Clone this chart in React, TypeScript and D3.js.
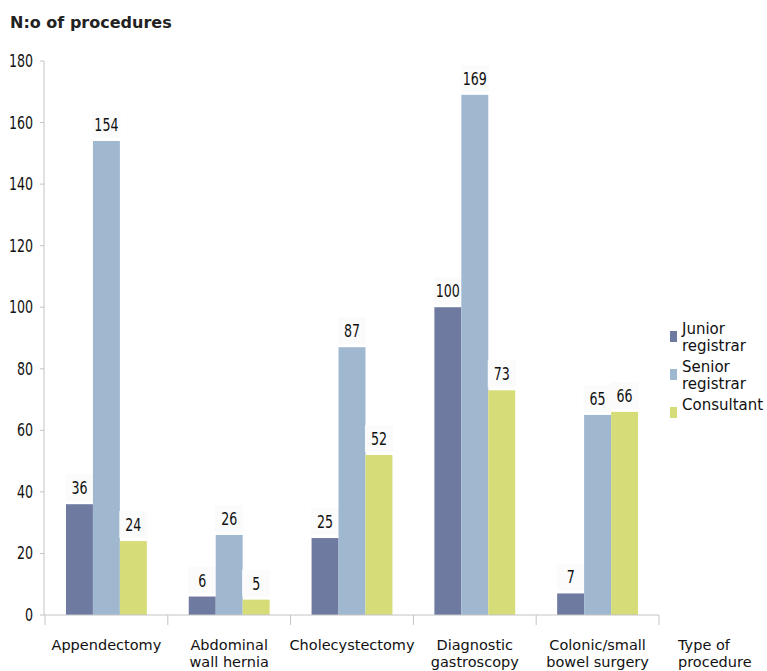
import React from 'react'
import * as d3 from 'd3'

const categories = ['Appendectomy', 'Abdominal wall hernia', 'Cholecystectomy', 'Diagnostic gastroscopy', 'Colonic/small bowel surgery']
const categoryLines = [['Appendectomy'], ['Abdominal', 'wall hernia'], ['Cholecystectomy'], ['Diagnostic', 'gastroscopy'], ['Colonic/small', 'bowel surgery']]
const seriesNames = ['Junior registrar', 'Senior registrar', 'Consultant']
const legendLines = [['Junior', 'registrar'], ['Senior', 'registrar'], ['Consultant']]
const junior = [36, 6, 25, 100, 7]
const senior = [154, 26, 87, 169, 65]
const consultant = [24, 5, 52, 73, 66]
const yTicks = [0, 20, 40, 60, 80, 100, 120, 140, 160, 180]

const colors = ['#6f7aa0', '#9fb8d0', '#d5dc78']
const numFont = '"DejaVu Sans Condensed", "DejaVu Sans", sans-serif'
const textFont = '"DejaVu Sans", sans-serif'

// narrow digits, like the original's condensed face
const Num = ({ x, y, anchor, children }: { x: number; y: number; anchor: string; children: React.ReactNode }) => (
  <g transform={`translate(${x},${y}) scale(0.78,1)`}>
    <text x={0} y={0} textAnchor={anchor} fontFamily={numFont} fontStretch="condensed" fontSize={18} fill="#111">{children}</text>
  </g>
)

export default function App() {
  const width = 767
  const height = 671
  const left = 45
  const right = 659
  const top = 61
  const bottom = 615

  const values = [junior, senior, consultant]
  const x = d3.scaleBand().domain(categories).range([left, right])
  const inner = d3.scaleBand().domain(seriesNames).range([0, x.bandwidth()]).paddingOuter(0.778)
  const y = d3.scaleLinear().domain([0, 180]).range([bottom, top])

  return (
    <div style={{ position: 'absolute', left: 0, top: 0 }}>
      <svg width={width} height={height} style={{ display: 'block', background: '#fff' }}>
        <text x={10} y={28} fontFamily={textFont} fontWeight="bold" fontSize={16} fill="#222">N:o of procedures</text>

        {/* y axis */}
        <line x1={left - 1} x2={left - 1} y1={top} y2={bottom} stroke="#c4c4c4" />
        {yTicks.map(t => (
          <g key={t}>
            <line x1={left - 5} x2={left - 1} y1={y(t)} y2={y(t)} stroke="#c4c4c4" />
            <Num x={33} y={y(t) + 6} anchor="end">{t}</Num>
          </g>
        ))}

        {/* bars */}
        {categories.map((c, ci) => (
          <g key={c} transform={`translate(${x(c)},0)`}>
            {seriesNames.map((s, si) => {
              const v = values[si][ci]
              const bx = inner(s) as number
              const bw = inner.bandwidth()
              const cx = bx + bw / 2
              const ty = y(v) - 10
              return (
                <g key={s}>
                  <rect x={bx} y={y(v)} width={bw} height={bottom - y(v)} fill={colors[si]} />
                  <rect x={cx - 14} y={ty - 20} width={28} height={27} fill="#fbfbfb" />
                  <Num x={cx} y={ty} anchor="middle">{v}</Num>
                </g>
              )
            })}
          </g>
        ))}

        {/* x axis */}
        <line x1={left - 1} x2={right} y1={bottom} y2={bottom} stroke="#c4c4c4" />
        {[...categories.map(c => x(c) as number), right].map((px, i) => (
          <line key={i} x1={px} x2={px} y1={bottom} y2={bottom + 10} stroke="#c4c4c4" />
        ))}
        {categories.map((c, ci) => (
          <text key={c} x={(x(c) as number) + x.bandwidth() / 2} y={650} textAnchor="middle" fontFamily={textFont} fontSize={14.5} fill="#111">
            {categoryLines[ci].map((l, li) => (
              <tspan key={li} x={(x(c) as number) + x.bandwidth() / 2} dy={li === 0 ? 0 : 17}>{l}</tspan>
            ))}
          </text>
        ))}
        <text x={678} y={650} fontFamily={textFont} fontSize={14.5} fill="#111">
          <tspan x={678} dy={0}>Type of</tspan>
          <tspan x={678} dy={17}>procedure</tspan>
        </text>

        {/* legend */}
        {seriesNames.map((s, si) => {
          const ly = 334 + si * 38
          return (
            <g key={s}>
              <rect x={670} y={ly - 3} width={7} height={11} fill={colors[si]} />
              <text x={682} y={ly} fontFamily={textFont} fontWeight={500} fontSize={15} fill="#111">
                {legendLines[si].map((l, li) => (
                  <tspan key={li} x={682} dy={li === 0 ? 0 : 17}>{l}</tspan>
                ))}
              </text>
            </g>
          )
        })}
      </svg>
    </div>
  )
}
